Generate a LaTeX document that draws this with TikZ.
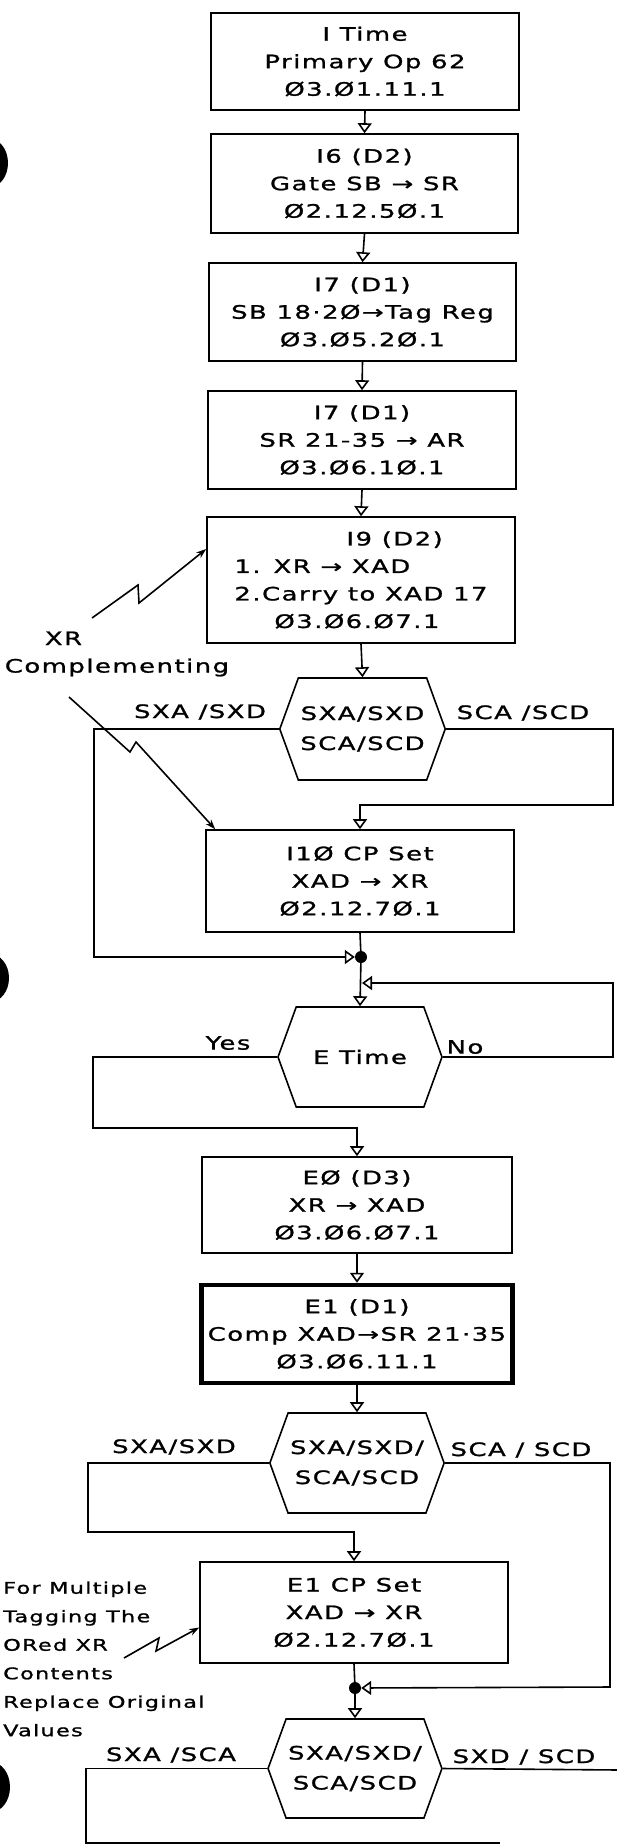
\documentclass[tikz,border=0pt]{standalone}
\usepackage{fontspec}
\setmainfont{DejaVu Sans}[FakeStretch=1.4, LetterSpace=8, FakeBold=1.2]
\usetikzlibrary{arrows.meta, shapes.symbols}

\begin{document}
\begin{tikzpicture}[x=1pt, y=-1pt,
  every node/.style={font=\fontsize{18.5}{27.5}\selectfont},
  box/.style={rectangle, draw, line width=1.6pt, minimum width=308pt, minimum height=98pt, align=center, inner sep=2pt},
  hexa/.style={signal, signal to=west and east, signal pointer angle=140, draw, line width=1.6pt,
    minimum width=164pt, minimum height=100pt, align=center, inner sep=2pt, font=\fontsize{18.5}{30}\selectfont},
  joint/.style={circle, fill, inner sep=0pt, minimum size=12pt},
  wire/.style={line width=1.6pt},
  flow/.style={line width=1.6pt, -{Triangle[open, length=10pt, width=14pt]}},
  zap/.style={line width=1.6pt, -{Stealth[length=10pt, width=7pt]}},
  lbl/.style={inner sep=0pt}]
  \useasboundingbox (0,0) rectangle (616,1847);

  % binder holes
  \fill (-10,163) ellipse [x radius=18pt, y radius=24pt];
  \fill (-10,978) ellipse [x radius=19pt, y radius=24pt];
  \fill (-9,1787) ellipse [x radius=19pt, y radius=25pt];

  % I time
  \node[box, minimum width=308pt, minimum height=97pt] (itime) at (365,61.5) {I Time\\Primary Op 62\\Ø3.Ø1.11.1};
  \node[box, minimum width=307pt, minimum height=99pt] (gate) at (364.5,183.5) {I6 (D2)\\Gate SB → SR\\Ø2.12.5Ø.1};
  \node[box, minimum width=307pt] (tagreg) at (362.5,312) {I7 (D1)\\SB 18·2Ø→Tag Reg\\Ø3.Ø5.2Ø.1};
  \node[box] (srar) at (362,440) {I7 (D1)\\SR 21-35 → AR\\Ø3.Ø6.1Ø.1};
  \node[box, minimum height=126pt, align=left] (xrxad) at (361,580) {\hspace*{112pt}I9 (D2)\\1. XR → XAD\\2.Carry to XAD 17\\\hspace*{40pt}Ø3.Ø6.Ø7.1};
  \draw[flow] (itime.south) -- (gate.north);
  \draw[flow] (gate.south) -- (tagreg.north);
  \draw[flow] (tagreg.south) -- (srar.north);
  \draw[flow] (srar.south) -- (xrxad.north);

  % first select
  \node[hexa, minimum height=102pt] (selone) at (362.5,729) {SXA/SXD\\SCA/SCD};
  \draw[flow] (xrxad.south) -- (selone.north);
  \node[box, minimum height=102pt] (cpset) at (360,881) {I1Ø CP Set\\XAD → XR\\Ø2.12.7Ø.1};
  \node[joint] (jointa) at (361,957) {};
  \node[lbl] (lsxa) at (200,712) {SXA /SXD};
  \node[lbl] (lsca) at (523,713) {SCA /SCD};
  \draw[flow] (selone.west) -| (94,957) -- (jointa);
  \draw[flow] (selone.east) -| (613,805) -| (cpset.north);
  \draw[wire] (cpset.south) -- (jointa);

  % XR note
  \node[lbl, align=left] (xrnote) at (117,654) {\hspace*{40pt}XR\\Complementing};
  \coordinate (zapa) at (92,618);
  \coordinate (zapb) at (69,697);
  \draw[zap] (zapa) -- (138,585) -- (139,603) -- ([yshift=31pt]xrxad.west);
  \draw[zap] (zapb) -- (130,752) -- (136,742) -- ([xshift=10pt]cpset.north west);

  % E time
  \node[hexa] (etime) at (360,1057) {E Time};
  \coordinate (nojoin) at (362,983);
  \draw[flow] (jointa) -- (etime.north);
  \draw[flow] (etime.east) -| (613,983) -- (nojoin);
  \node[lbl] (lyes) at (228,1043) {Yes};
  \node[lbl] (lno) at (465,1047) {No};
  \node[box, minimum width=310pt, minimum height=96pt] (ezero) at (357,1205) {EØ (D3)\\XR → XAD\\Ø3.Ø6.Ø7.1};
  \draw[flow] (etime.west) -| (93,1128) -| (ezero.north);
  \node[box, minimum width=311pt, line width=4.5pt] (eone) at (357,1334) {E1 (D1)\\Comp XAD→SR 21·35\\Ø3.Ø6.11.1};
  \draw[flow] (ezero.south) -- (eone.north);

  % second select
  \node[hexa] (seltwo) at (357,1463) {SXA/SXD/\\SCA/SCD};
  \draw[flow] (eone.south) -- (seltwo.north);
  \node[lbl] (lsxb) at (174,1447) {SXA/SXD};
  \node[lbl] (lscb) at (521,1450) {SCA / SCD};
  \node[box, minimum height=101pt] (ecpset) at (354,1612.5) {E1 CP Set\\XAD → XR\\Ø2.12.7Ø.1};
  \node[joint] (jointb) at (355,1688) {};
  \draw[flow] (seltwo.west) -| (88,1532) -| (ecpset.north);
  \draw[flow] (seltwo.east) -| (610,1687) -- (jointb);
  \draw[wire] (ecpset.south) -- (jointb);

  % tag note
  \node[lbl, align=left, anchor=west, font=\fontsize{16}{28.5}\selectfont] (tagnote) at (3,1659) {For Multiple\\Tagging The\\ORed XR\\Contents\\Replace Original\\Values};
  \coordinate (zapc) at (124,1658);
  \draw[zap] (zapc) -- (159,1638) -- (156,1651) -- ([yshift=-15pt]ecpset.west);

  % third select
  \node[hexa, minimum height=99pt] (selthree) at (355,1768.5) {SXA/SXD/\\SCA/SCD};
  \draw[flow] (jointb) -- (selthree.north);
  \node[lbl] (lsxc) at (171,1755) {SXA /SCA};
  \node[lbl] (lsdc) at (524,1757) {SXD / SCD};
  \coordinate (bottomend) at (500,1843);
  \coordinate (rightend) at (620,1770);
  \draw[wire] (selthree.west) -| (86,1843) -- (bottomend);
  \draw[wire] (selthree.east) -- (rightend);
\end{tikzpicture}
\end{document}
